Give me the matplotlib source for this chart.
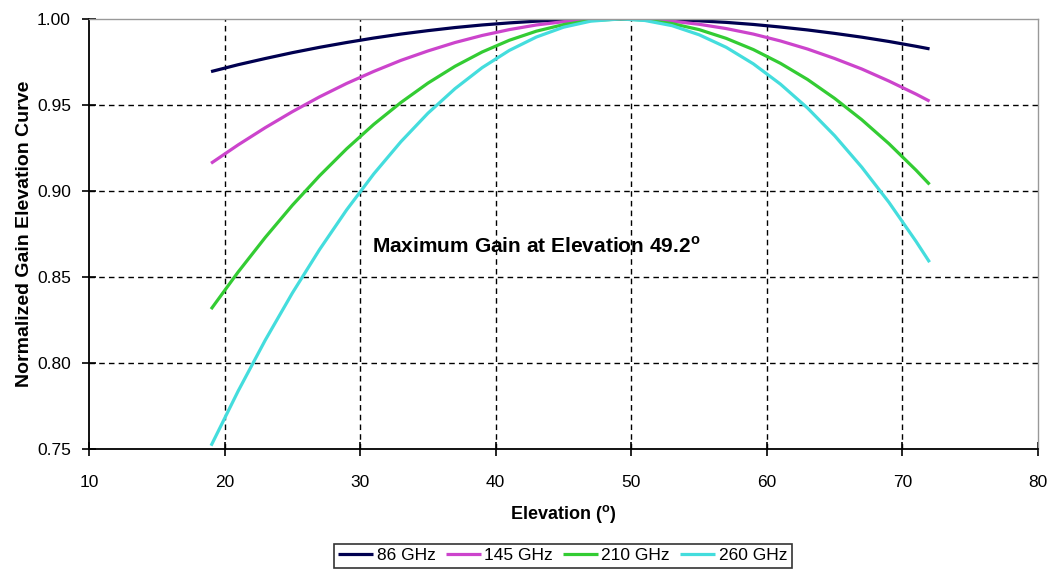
import matplotlib
matplotlib.use('Agg')
import matplotlib.pyplot as plt

plt.rcParams['font.family'] = ['Liberation Sans', 'DejaVu Sans']
plt.rcParams['mathtext.fontset'] = 'custom'
plt.rcParams['mathtext.rm'] = 'Liberation Sans:bold'

# elevation (deg)
elev = [19, 21, 23, 25, 27, 29, 31, 33, 35, 37, 39, 41, 43, 45, 47, 49.2,
        51, 53, 55, 57, 59, 61, 63, 65, 67, 69, 71, 72]

g86 = [0.9694, 0.9734, 0.9770, 0.9804, 0.9835, 0.9863, 0.9889, 0.9912, 0.9932, 0.9950,
       0.9965, 0.9977, 0.9987, 0.9994, 0.9998, 1.0000, 0.9999, 0.9995, 0.9989, 0.9980,
       0.9968, 0.9953, 0.9936, 0.9916, 0.9894, 0.9869, 0.9841, 0.9826]
g145 = [0.9161, 0.9268, 0.9368, 0.9461, 0.9547, 0.9625, 0.9695, 0.9759, 0.9814, 0.9863,
        0.9904, 0.9938, 0.9965, 0.9984, 0.9996, 1.0000, 0.9997, 0.9987, 0.9969, 0.9944,
        0.9912, 0.9872, 0.9825, 0.9770, 0.9709, 0.9639, 0.9563, 0.9522]
g210 = [0.8313, 0.8529, 0.8730, 0.8917, 0.9088, 0.9245, 0.9387, 0.9514, 0.9627, 0.9725,
        0.9808, 0.9876, 0.9929, 0.9967, 0.9991, 1.0000, 0.9994, 0.9973, 0.9938, 0.9887,
        0.9822, 0.9742, 0.9648, 0.9538, 0.9414, 0.9275, 0.9121, 0.9038]
g260 = [0.7519, 0.7837, 0.8133, 0.8407, 0.8659, 0.8890, 0.9099, 0.9286, 0.9452, 0.9595,
        0.9717, 0.9817, 0.9895, 0.9952, 0.9987, 1.0000, 0.9991, 0.9961, 0.9908, 0.9835,
        0.9739, 0.9621, 0.9482, 0.9321, 0.9138, 0.8934, 0.8707, 0.8586]

series = [('86 GHz', g86, '#000050'),
          ('145 GHz', g145, '#cc44cc'),
          ('210 GHz', g210, '#33cc33'),
          ('260 GHz', g260, '#44dddd')]

fig = plt.figure(figsize=(10.5, 5.74), dpi=100)
ax = fig.add_axes([0.0848, 0.2178, 0.9038, 0.7492])

for name, vals, col in series:
    ax.plot(elev, vals, color=col, lw=2.3, label=name, solid_capstyle='butt')

ax.set_xlim(10, 80)
ax.set_ylim(0.75, 1.00)
ax.set_xticks(range(10, 81, 10))
ax.set_yticks([0.75, 0.80, 0.85, 0.90, 0.95, 1.00])
ax.set_yticklabels(['0.75', '0.80', '0.85', '0.90', '0.95', '1.00'])
ax.grid(True, color='black', ls=(0, (4, 3)), lw=1)
# no grid lines on the frame itself
for gl in [ax.xaxis.get_gridlines()[0], ax.xaxis.get_gridlines()[-1],
           ax.yaxis.get_gridlines()[0], ax.yaxis.get_gridlines()[-1]]:
    gl.set_visible(False)
ax.tick_params(direction='inout', length=10, width=1.2, labelsize=12.5)
ax.tick_params(axis='x', pad=14)
ax.tick_params(axis='y', pad=8)

for s in ['left', 'bottom']:
    ax.spines[s].set_color('black')
    ax.spines[s].set_linewidth(1.3)
for s in ['top', 'right']:
    ax.spines[s].set_color('#999999')
    ax.spines[s].set_linewidth(1.0)

ax.set_xlabel(r'Elevation ($^{\mathrm{o}}$)', fontsize=13, fontweight='bold', labelpad=9)
ax.set_ylabel('Normalized Gain Elevation Curve', fontsize=14, fontweight='bold', labelpad=3)

ax.text(30.9, 0.868, r'Maximum Gain at Elevation 49.2$^{\mathrm{o}}$', fontsize=15,
        fontweight='bold', va='center', ha='left')

leg = fig.legend(loc='center', bbox_to_anchor=(0.536, 0.032), ncol=4, fontsize=12.5,
                 frameon=True, fancybox=False, edgecolor='black', handlelength=2.0,
                 handletextpad=0.2, columnspacing=0.6, borderpad=0.25, borderaxespad=0)
leg.get_frame().set_linewidth(1.2)

fig.savefig('out.png', dpi=100)
